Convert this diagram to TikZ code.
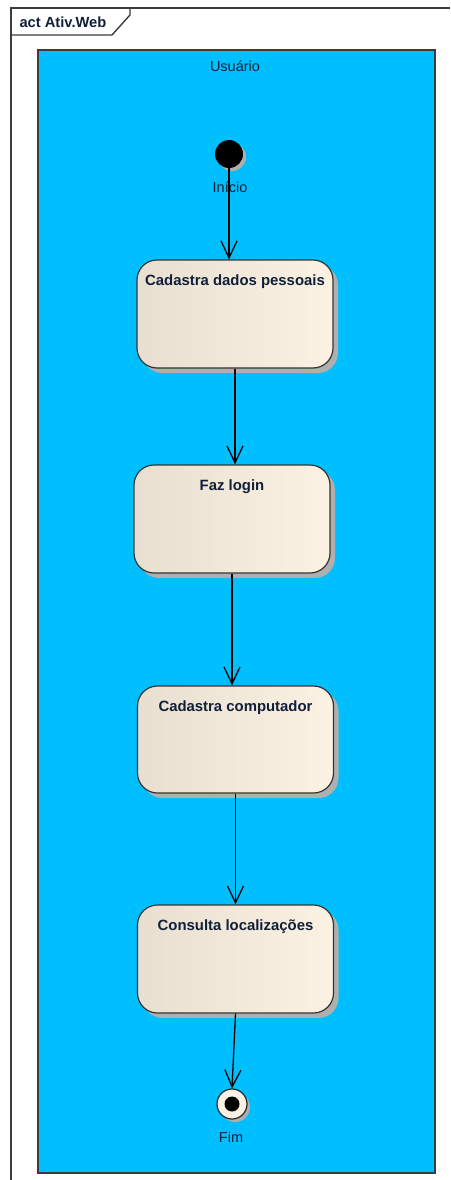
\documentclass[tikz,border=0pt]{standalone}
\usepackage{fontspec}
\setmainfont{Liberation Sans}
\usetikzlibrary{arrows.meta,shadows}
\definecolor{lanefill}{RGB}{0,191,255}
\definecolor{edgegrey}{RGB}{60,60,60}
\definecolor{actleft}{RGB}{233,223,208}
\definecolor{actright}{RGB}{252,242,228}
\definecolor{shadowgrey}{RGB}{175,175,175}
\definecolor{labelink}{RGB}{16,32,56}
\tikzset{
  frameline/.style={draw=edgegrey, line width=1.4pt},
  lane/.style={draw=edgegrey, line width=1.4pt, fill=lanefill},
  action/.style={rectangle, rounded corners=20pt, draw=black!80, line width=1.2pt,
    left color=actleft, right color=actright, minimum width=196pt, inner sep=0pt,
    drop shadow={shadow xshift=5pt, shadow yshift=-5pt, fill=shadowgrey, opacity=1}},
  actiontitle/.style={font=\bfseries\fontsize{14.9pt}{16pt}\selectfont, text=labelink, anchor=center},
  plain/.style={font=\fontsize{14.5pt}{16pt}\selectfont, text=labelink},
  flow/.style={draw=black, line width=1.3pt, -{Straight Barb[length=17pt,width=16pt,line width=1.3pt]}},
  initial/.style={circle, fill=black, minimum size=28pt, inner sep=0pt,
    drop shadow={shadow xshift=3pt, shadow yshift=-3pt, fill=shadowgrey, opacity=1}},
  final/.style={circle, draw=black!85, line width=1.2pt, fill=actright, minimum size=30pt, inner sep=0pt,
    drop shadow={shadow xshift=3pt, shadow yshift=-3pt, fill=shadowgrey, opacity=1}},
  finaldot/.style={circle, fill=black, minimum size=15pt, inner sep=0pt}
}
\begin{document}
\begin{tikzpicture}[x=1pt, y=-1pt]
\useasboundingbox (0,0) rectangle (450,1180);
\fill[white] (0,0) rectangle (450,1180);

% diagram frame with its name tab
\draw[frameline] (450,8) -- (11,8) -- (11,1180);
\draw[frameline] (11,35) -- (112,35) -- (130,15) -- (130,8);
\node[font=\bfseries\fontsize{14.7pt}{16pt}\selectfont, text=labelink, anchor=west] (title) at (16,22) {act Ativ.Web};

% swimlane
\draw[lane] (38,50) rectangle (435,1173);
\node[plain] (lane) at (235,66) {Usuário};

% initial node
\node[initial] (start) at (229,154) {};
\node[plain] (startlbl) at (230,187) {Início};

% actions
\node[action, minimum height=108pt] (b1) at (235,314) {};
\node[actiontitle] (t1) at ([yshift=-22pt]b1.north) {Cadastra dados pessoais};

\node[action, minimum height=108pt] (b2) at (232,519) {};
\node[actiontitle] (t2) at ([yshift=-22pt]b2.north) {Faz login};

\node[action, minimum height=107pt] (b3) at (235.5,739.5) {};
\node[actiontitle] (t3) at ([yshift=-22pt]b3.north) {Cadastra computador};

\node[action, minimum height=108pt] (b4) at (235.5,959) {};
\node[actiontitle] (t4) at ([yshift=-22pt]b4.north) {Consulta localizações};

% final node
\node[final] (fim) at (232,1104) {};
\node[finaldot] (fimdot) at (fim) {};
\node[plain] (fimlbl) at (231,1137) {Fim};

% control flows
\draw[flow] (start.center) -- (start.center |- b1.north);
\draw[flow] (b1.south) -- (b1.south |- b2.north);
\draw[flow] (b2.south) -- (b2.south |- b3.north);
\draw[flow] (b3.south) -- (b3.south |- b4.north);
\draw[flow] (b4.south) -- (fim.north);
\end{tikzpicture}
\end{document}
